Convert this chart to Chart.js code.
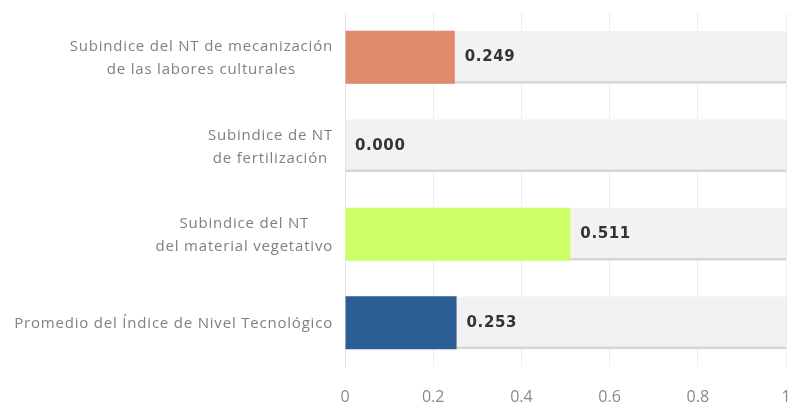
<!DOCTYPE html>
<html>
<head>
<meta charset="utf-8">
<script src="https://cdn.jsdelivr.net/npm/chart.js@4"></script>
<style>
  html, body { margin: 0; padding: 0; background: #fff; }
  #wrap { width: 788px; height: 405px; }
</style>
</head>
<body>
<div id="wrap"><canvas id="chart"></canvas></div>
<script>
const categories = [
  ['Subindice del NT de mecanización', 'de las labores culturales'],
  ['Subindice de NT', 'de fertilización'],
  ['Subindice del NT', 'del material vegetativo'],
  ['Promedio del Índice de Nivel Tecnológico']
];
const values = [0.249, 0.000, 0.511, 0.253];
const fullScale = [1, 1, 1, 1];
const barColors = ['#e0896c', '#e0896c', '#ccff66', '#2c5e96'];
const xTicks = [0, 0.2, 0.4, 0.6, 0.8, 1];

// y labels: each label centred on its own longest line, right edge fixed
const yLabelPlugin = {
  id: 'yLabels',
  afterDraw(chart) {
    const { ctx } = chart;
    const y = chart.scales.y;
    const rightEdge = y.right - 12;
    const lineH = 23;
    ctx.save();
    ctx.font = '15px "Open Sans"';
    ctx.letterSpacing = '0.8px';
    ctx.fillStyle = '#808080';
    ctx.textAlign = 'center';
    ctx.textBaseline = 'middle';
    categories.forEach((lines, i) => {
      const cy = y.getPixelForTick(i) + 1;
      const w = Math.max(...lines.map(l => ctx.measureText(l).width));
      const cx = rightEdge - w / 2;
      const top = cy - (lines.length - 1) * lineH / 2;
      lines.forEach((l, j) => ctx.fillText(l, cx, top + j * lineH));
    });
    ctx.restore();
  }
};

const valueLabelPlugin = {
  id: 'valueLabels',
  afterDatasetsDraw(chart) {
    const { ctx } = chart;
    const meta = chart.getDatasetMeta(0);
    ctx.save();
    ctx.font = 'bold 15px "DejaVu Sans"';
    ctx.letterSpacing = '0.6px';
    ctx.fillStyle = '#333333';
    ctx.textAlign = 'left';
    ctx.textBaseline = 'middle';
    meta.data.forEach((bar, i) => {
      ctx.fillText(values[i].toFixed(3), bar.x + 10, bar.y);
    });
    ctx.restore();
  }
};

new Chart(document.getElementById('chart'), {
  type: 'bar',
  data: {
    labels: categories,
    datasets: [
      {
        data: values,
        backgroundColor: barColors,
        barPercentage: 0.6,
        categoryPercentage: 1,
        grouped: false
      },
      {
        data: fullScale,
        backgroundColor: '#f2f2f2',
        borderColor: '#d6d6d6',
        borderWidth: { top: 0, left: 0, right: 0, bottom: 3 },
        borderSkipped: false,
        barPercentage: 0.6,
        categoryPercentage: 1,
        grouped: false
      }
    ]
  },
  options: {
    indexAxis: 'y',
    responsive: true,
    maintainAspectRatio: false,
    animation: false,
    layout: { padding: { top: 13, bottom: 0, left: 0, right: 0 } },
    plugins: {
      legend: { display: false },
      tooltip: { enabled: false }
    },
    scales: {
      x: {
        min: 0,
        max: 1,
        afterBuildTicks(scale) {
          scale.ticks = xTicks.map(v => ({ value: v }));
        },
        afterFit(scale) {
          scale.paddingRight = 2;
          scale.height = 38;
        },
        grid: { color: '#eeeeee', drawTicks: false },
        border: { display: false },
        ticks: {
          padding: 22,
          color: '#8a8a8a',
          font: { family: 'Open Sans', size: 16, lineHeight: 1 },
          callback: v => String(v)
        }
      },
      y: {
        afterFit(scale) {
          scale.width = 345;
          scale.paddingTop = 0;
          scale.paddingBottom = 0;
        },
        grid: { display: false },
        border: { display: true, color: '#e2e2e2' },
        ticks: { display: false }
      }
    }
  },
  plugins: [yLabelPlugin, valueLabelPlugin]
});
</script>
</body>
</html>
